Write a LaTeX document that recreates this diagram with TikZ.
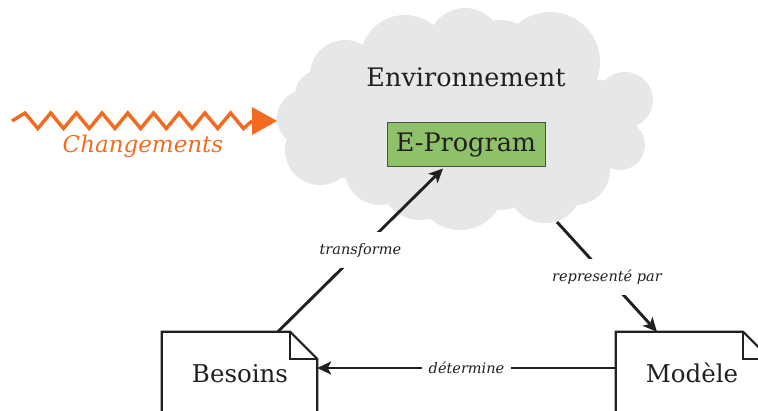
\documentclass[tikz,border=0pt]{standalone}
\usepackage{fontspec}
\setmainfont{DejaVu Serif}
\usetikzlibrary{arrows.meta,calc}
\definecolor{cloudgray}{HTML}{E6E7E9}
\definecolor{epgreen}{HTML}{8FC16B}
\definecolor{ink}{HTML}{231F20}
\definecolor{chorange}{HTML}{F26B21}
\tikzset{
  bigtext/.style={font=\fontsize{25.5}{30}\selectfont, text=ink},
  doclabel/.style={font=\fontsize{24.5}{28}\selectfont, text=ink, anchor=base},
  docbox/.style={minimum width=#1, minimum height=88pt, inner sep=0pt},
  docline/.style={draw=ink, line width=2.2pt, fill=white, line join=miter},
  arr/.style={draw=ink, line width=2.9pt, -{Stealth[length=14pt,width=13pt,inset=3.5pt]}},
  lbl/.style={font=\fontsize{14.5}{17}\selectfont\itshape, text=ink, fill=white, inner xsep=7pt, inner ysep=11pt},
  zz/.style={draw=chorange, line width=3.5pt, line join=miter},
}
\begin{document}
\begin{tikzpicture}[x=1pt,y=-1pt]
\useasboundingbox (0,0) rectangle (758,410);
\clip (0,0) rectangle (758,410);
% cloud
\begin{scope}[fill=cloudgray]
\foreach \cx/\cy/\r in {345/75/35, 405/60/45, 465/45/37, 550/62/50, 625/100/28, 620/145/25,
  575/170/35, 545/185/38, 460/185/45, 380/170/35, 320/150/35, 305/118/28, 320/95/25,
  600/110/30, 500/60/40, 420/180/40, 340/112/32, 500/170/40}
  \fill (\cx,\cy) circle[radius=\r];
\fill (335,85) rectangle (605,178);
\end{scope}
\coordinate (cloudleft) at (277,121);
\coordinate (cloudbot) at (557,222);
\node[bigtext, anchor=base] (env) at (466,86.5) {Environnement};
% E-Program
\node[draw=ink!80, line width=0.8pt, fill=epgreen, minimum width=158pt, minimum height=43.5pt, inner sep=0pt] (ep) at (466,144.4) {};
\node[bigtext, anchor=base] (eptext) at (466,151.5) {E-Program};
% Changements
\coordinate (chgstart) at (12,121);
\coordinate (chgbase) at (252,121);
\draw[zz] (chgstart) \foreach \k in {0,...,8} { -- ({25+25.7*\k},113) -- ({37.85+25.7*\k},128.5) } -- (chgbase);
\fill[chorange] ($(chgbase)+(0,-14)$) -- (cloudleft) -- ($(chgbase)+(0,14)$) -- cycle;
\node[font=\fontsize{23}{28}\selectfont\itshape, text=chorange, anchor=base] (chg) at (143,152) {Changements};
% documents
\node[docbox=155pt] (bes) at (239.5,376) {};
\path[docline] (bes.south west) -- (bes.north west) -- ([xshift=-27pt]bes.north east) -- ([yshift=-27pt]bes.north east) -- (bes.south east) -- cycle;
\draw[ink, line width=2.2pt] ([xshift=-27pt]bes.north east) |- ([yshift=-27pt]bes.north east);
\node[doclabel] (bestext) at (240,382) {Besoins};
\node[docbox=154pt] (mod) at (693,376) {};
\path[docline] (mod.south west) -- (mod.north west) -- ([xshift=-27pt]mod.north east) -- ([yshift=-27pt]mod.north east) -- (mod.south east) -- cycle;
\draw[ink, line width=2.2pt] ([xshift=-27pt]mod.north east) |- ([yshift=-27pt]mod.north east);
\node[doclabel] (modtext) at (692,382) {Modèle};
% connectors
\draw[arr] ([xshift=116pt]bes.north west) -- node[lbl, midway] {transforme} ([xshift=-23pt,yshift=-2pt]ep.south);
\draw[arr] (cloudbot) -- node[lbl, midway] {representé par} ([xshift=-36pt]mod.north);
\draw[arr] ([yshift=8pt]mod.west) -- node[lbl, midway] {détermine} ([yshift=8pt]bes.east);
\end{tikzpicture}
\end{document}
